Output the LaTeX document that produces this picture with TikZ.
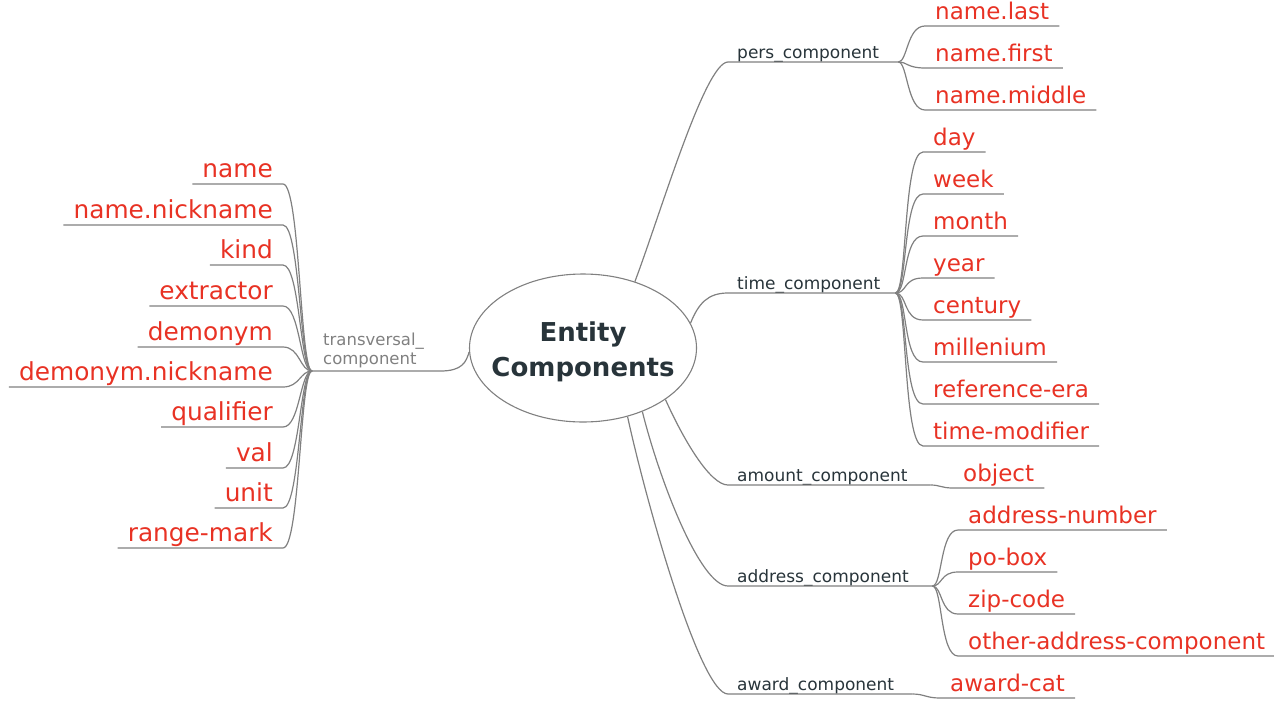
\documentclass[tikz,border=0pt]{standalone}
\usepackage{fontspec}
\setmainfont{DejaVu Sans}
\usetikzlibrary{shapes.geometric}
\definecolor{leafred}{RGB}{232,50,36}
\definecolor{slate}{RGB}{40,52,58}
\definecolor{linegray}{RGB}{128,128,128}
\tikzstyle{mainnode} = [ellipse, draw=linegray, line width=1.1pt, inner sep=0pt, minimum width=227pt, minimum height=148pt]
\tikzstyle{maintext} = [align=center, text=slate, font=\bfseries\fontsize{26}{35}\selectfont]
\tikzstyle{branch} = [anchor=south west, inner xsep=9pt, inner ysep=3pt, text depth=0pt, text=slate, font=\fontsize{17}{19}\selectfont]
\tikzstyle{tbranch} = [anchor=south west, inner xsep=11pt, inner ysep=3pt, align=left, text=linegray, font=\fontsize{16.5}{19}\selectfont]
\tikzstyle{rleaf} = [anchor=south west, inner xsep=10pt, inner ysep=1.5pt, text depth=5pt, text=leafred, font=\fontsize{23}{27}\selectfont]
\tikzstyle{lleaf} = [anchor=south east, inner xsep=10pt, inner ysep=1.5pt, text depth=5pt, text=leafred, font=\fontsize{24.8}{28}\selectfont]
\tikzstyle{link} = [draw=linegray, line width=1.2pt]

\begin{document}
\begin{tikzpicture}[x=1pt, y=-1pt]
    \useasboundingbox (0,0) rectangle (1274,702);
    \node[mainnode] (ec) at (583,348) {};
    \node[maintext] (ectext) at (583,352) {Entity\\Components};

    % right branches
    \node[branch, text width=152pt] (pers) at (728,62) {pers\_component};
    \node[branch, text width=149pt] (time) at (728,293) {time\_component};
    \node[branch, text width=184pt] (amount) at (728,485) {amount\_component};
    \node[branch, text width=186pt] (address) at (728,586) {address\_component};
    \node[branch, text width=166pt] (award) at (728,694) {award\_component};

    \node[rleaf] (nlast) at (925,26) {name.last};
    \node[rleaf] (nfirst) at (925,68) {name.first};
    \node[rleaf] (nmiddle) at (925,110) {name.middle};

    \node[rleaf] (day) at (923,152) {day};
    \node[rleaf] (week) at (923,194) {week};
    \node[rleaf] (month) at (923,236) {month};
    \node[rleaf] (year) at (923,278) {year};
    \node[rleaf] (century) at (923,320) {century};
    \node[rleaf] (millenium) at (923,362) {millenium};
    \node[rleaf] (refera) at (923,404) {reference-era};
    \node[rleaf] (timemod) at (923,446) {time-modifier};

    \node[rleaf] (object) at (953,488) {object};

    \node[rleaf] (addrnum) at (958,530) {address-number};
    \node[rleaf] (pobox) at (958,572) {po-box};
    \node[rleaf] (zipcode) at (958,614) {zip-code};
    \node[rleaf] (otheraddr) at (958,656) {other-address-component};

    \node[rleaf] (awardcat) at (940,698) {award-cat};

    % left branch
    \node[tbranch, text width=106pt] (trans) at (312,371) {transversal\_\\component};

    \node[lleaf] (lname) at (283,184) {name};
    \node[lleaf] (lnick) at (283,225) {name.nickname};
    \node[lleaf] (kind) at (283,265) {kind};
    \node[lleaf] (extractor) at (283,306) {extractor};
    \node[lleaf] (demonym) at (283,347) {demonym};
    \node[lleaf] (demnick) at (283,387) {demonym.nickname};
    \node[lleaf] (qualifier) at (283,427) {qualifier};
    \node[lleaf] (val) at (283,468) {val};
    \node[lleaf] (unit) at (283,508) {unit};
    \node[lleaf] (rangemark) at (283,548) {range-mark};

    % center to branches
    \draw[link] (ec.52) .. controls +(25,-66) and +(-23,0) .. (pers.south west) -- (pers.south east);
    \draw[link] (ec.13) .. controls +(8,-20) and +(-20,0) .. (time.south west) -- (time.south east);
    \draw[link] (ec.-32) .. controls +(18,40) and +(-18,0) .. (amount.south west) -- (amount.south east);
    \draw[link] (ec.-47) .. controls +(17,68) and +(-28,0) .. (address.south west) -- (address.south east);
    \draw[link] (ec.-57) .. controls +(18,83) and +(-28,0) .. (award.south west) -- (award.south east);
    \draw[link] (ec.182) .. controls +(-3,10) and +(22,0) .. (trans.south east) -- (trans.south west);

    % pers_component
    \draw[link] (pers.south east) .. controls +(9,0) and +(-18,0) .. (nlast.south west) -- (nlast.south east);
    \draw[link] (pers.south east) .. controls +(9,0) and +(-18,0) .. (nfirst.south west) -- (nfirst.south east);
    \draw[link] (pers.south east) .. controls +(9,0) and +(-18,0) .. (nmiddle.south west) -- (nmiddle.south east);

    % time_component
    \draw[link] (time.south east) .. controls +(12,0) and +(-20,0) .. (day.south west) -- (day.south east);
    \draw[link] (time.south east) .. controls +(12,0) and +(-20,0) .. (week.south west) -- (week.south east);
    \draw[link] (time.south east) .. controls +(12,0) and +(-20,0) .. (month.south west) -- (month.south east);
    \draw[link] (time.south east) .. controls +(12,0) and +(-20,0) .. (year.south west) -- (year.south east);
    \draw[link] (time.south east) .. controls +(12,0) and +(-20,0) .. (century.south west) -- (century.south east);
    \draw[link] (time.south east) .. controls +(12,0) and +(-20,0) .. (millenium.south west) -- (millenium.south east);
    \draw[link] (time.south east) .. controls +(12,0) and +(-20,0) .. (refera.south west) -- (refera.south east);
    \draw[link] (time.south east) .. controls +(12,0) and +(-20,0) .. (timemod.south west) -- (timemod.south east);

    % amount_component
    \draw[link] (amount.south east) .. controls +(10,0) and +(-12,0) .. (object.south west) -- (object.south east);

    % address_component
    \draw[link] (address.south east) .. controls +(10,0) and +(-18,0) .. (addrnum.south west) -- (addrnum.south east);
    \draw[link] (address.south east) .. controls +(10,0) and +(-18,0) .. (pobox.south west) -- (pobox.south east);
    \draw[link] (address.south east) .. controls +(10,0) and +(-18,0) .. (zipcode.south west) -- (zipcode.south east);
    \draw[link] (address.south east) .. controls +(10,0) and +(-18,0) .. (otheraddr.south west) -- (otheraddr.south east);

    % award_component
    \draw[link] (award.south east) .. controls +(12,0) and +(-14,0) .. (awardcat.south west) -- (awardcat.south east);

    % transversal_component
    \draw[link] (trans.south west) .. controls +(-12,0) and +(17,0) .. (lname.south east) -- (lname.south west);
    \draw[link] (trans.south west) .. controls +(-12,0) and +(17,0) .. (lnick.south east) -- (lnick.south west);
    \draw[link] (trans.south west) .. controls +(-12,0) and +(17,0) .. (kind.south east) -- (kind.south west);
    \draw[link] (trans.south west) .. controls +(-12,0) and +(17,0) .. (extractor.south east) -- (extractor.south west);
    \draw[link] (trans.south west) .. controls +(-12,0) and +(17,0) .. (demonym.south east) -- (demonym.south west);
    \draw[link] (trans.south west) .. controls +(-12,0) and +(17,0) .. (demnick.south east) -- (demnick.south west);
    \draw[link] (trans.south west) .. controls +(-12,0) and +(17,0) .. (qualifier.south east) -- (qualifier.south west);
    \draw[link] (trans.south west) .. controls +(-12,0) and +(17,0) .. (val.south east) -- (val.south west);
    \draw[link] (trans.south west) .. controls +(-12,0) and +(17,0) .. (unit.south east) -- (unit.south west);
    \draw[link] (trans.south west) .. controls +(-12,0) and +(17,0) .. (rangemark.south east) -- (rangemark.south west);
\end{tikzpicture}
\end{document}
